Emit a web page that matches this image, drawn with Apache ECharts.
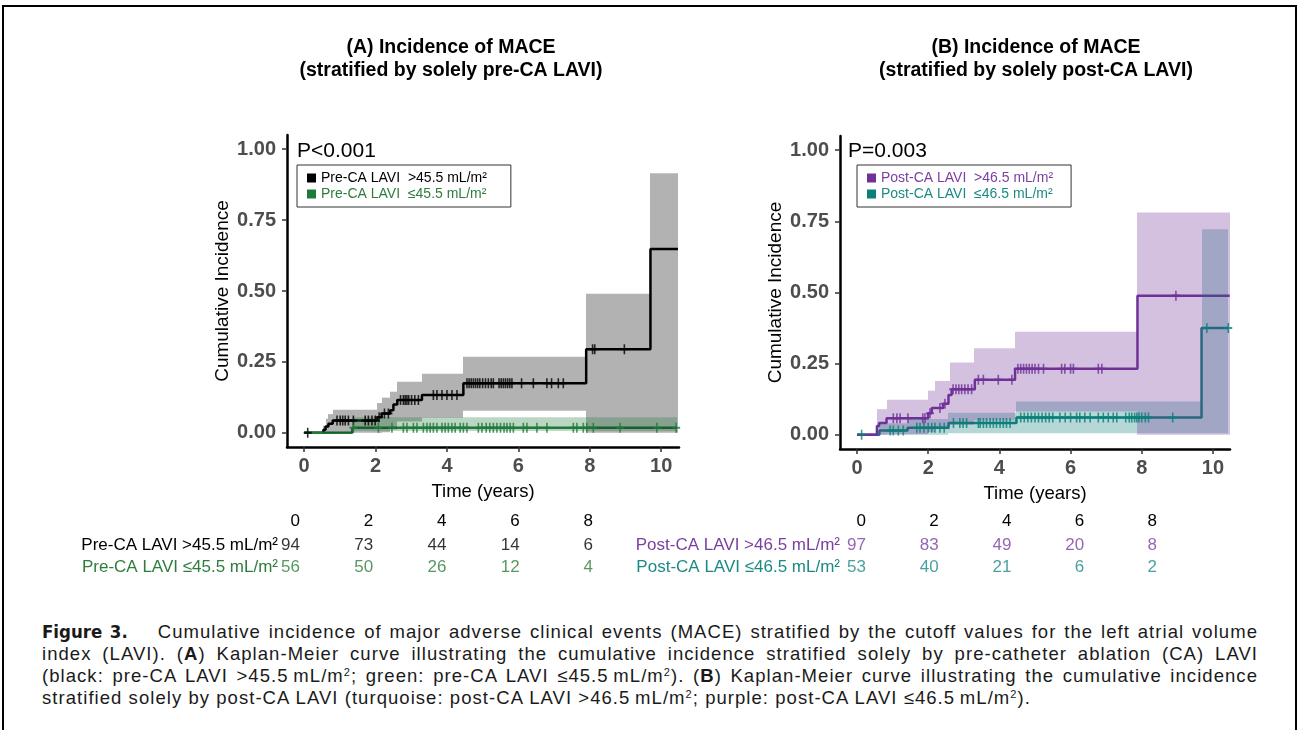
<!DOCTYPE html>
<html>
<head>
<meta charset="utf-8">
<script src="https://cdn.jsdelivr.net/npm/echarts@6/dist/echarts.min.js"></script>
<style>
html,body{margin:0;padding:0;background:#fff;width:1299px;height:730px;overflow:hidden;}
#frame{position:absolute;left:2px;top:5px;width:1295px;height:760px;border:2px solid #000;box-sizing:border-box;}
#chart{position:absolute;left:0;top:0;width:1299px;height:610px;}
#caption{position:absolute;left:42px;top:621px;width:1216px;font-family:"Liberation Sans","Arial",sans-serif;font-size:18.5px;letter-spacing:1.05px;line-height:22px;color:#1a1a1a;}
#caption .ln{text-align:justify;text-align-last:justify;white-space:nowrap;}
#caption .ln.last{text-align-last:left;}
#caption b.fig{font-family:"Liberation Sans Narrow","DejaVu Sans Condensed",sans-serif;font-weight:bold;letter-spacing:0;margin-right:30px;}
#caption sup{font-size:11px;vertical-align:6px;line-height:0;}
</style>
</head>
<body>
<div id="frame"></div>
<div id="chart"></div>
<div id="caption">
<div class="ln"><b class="fig">Figure 3.</b>Cumulative incidence of major adverse clinical events (MACE) stratified by the cutoff values for the left atrial volume</div>
<div class="ln">index (LAVI). (<b>A</b>) Kaplan-Meier curve illustrating the cumulative incidence stratified solely by pre-catheter ablation (CA) LAVI</div>
<div class="ln">(black: pre-CA LAVI &gt;45.5&#8201;mL/m<sup>2</sup>; green: pre-CA LAVI &le;45.5&#8201;mL/m<sup>2</sup>). (<b>B</b>) Kaplan-Meier curve illustrating the cumulative incidence</div>
<div class="ln last">stratified solely by post-CA LAVI (turquoise: post-CA LAVI &gt;46.5&#8201;mL/m<sup>2</sup>; purple: post-CA LAVI &le;46.5&#8201;mL/m<sup>2</sup>).</div>
</div>
<script>
// ---------- axis ticks ----------
const timeTicks = [0, 2, 4, 6, 8, 10];
const incidenceTicks = [0, 0.25, 0.5, 0.75, 1];
const riskTimes = [0, 2, 4, 6, 8];

// ---------- labels ----------
const nameA1 = 'Pre-CA LAVI  >45.5 mL/m²';
const nameA2 = 'Pre-CA LAVI  ≤45.5 mL/m²';
const nameB1 = 'Post-CA LAVI  >46.5 mL/m²';
const nameB2 = 'Post-CA LAVI  ≤46.5 mL/m²';
const rowA = ['Pre-CA LAVI >45.5 mL/m²', 'Pre-CA LAVI ≤45.5 mL/m²'];
const rowB = ['Post-CA LAVI >46.5 mL/m²', 'Post-CA LAVI ≤46.5 mL/m²'];

// ---------- Panel A: pre-CA LAVI > 45.5 (black) ----------
const preHighT = [0, 0.54, 0.6, 0.68, 0.8, 2.05, 2.17, 2.41, 2.5, 2.61, 3.3, 4.46, 7.9, 9.7, 10.47];
const preHighV = [0, 0.011, 0.022, 0.032, 0.043, 0.055, 0.068, 0.08, 0.1, 0.116, 0.133, 0.175, 0.295, 0.648, 0.648];
const preHighBandT = [0.54, 0.6, 0.68, 0.8, 2.05, 2.17, 2.41, 2.61, 3.3, 4.46, 7.9, 9.7, 10.48];
const preHighBandLo = [0, 0, 0, 0, 0, 0.002, 0.012, 0.04, 0.053, 0.078, 0, 0];
const preHighBandHi = [0.025, 0.05, 0.066, 0.081, 0.105, 0.124, 0.145, 0.18, 0.208, 0.268, 0.49, 0.915];
const preHighCensor = [0.1, 0.92, 1.01, 1.08, 1.15, 1.24, 1.38, 1.71, 1.8, 1.9, 1.99, 2.1, 2.25, 2.36,
  2.7, 2.78, 2.83, 2.88, 2.93, 3.01, 3.1, 3.2, 3.62, 3.72, 3.86, 4.0, 4.14, 4.28,
  4.56, 4.62, 4.68, 4.74, 4.8, 4.86, 4.92, 5.0, 5.08, 5.16, 5.24, 5.3, 5.46, 5.52, 5.58, 5.64, 5.7, 5.76, 5.82,
  6.09, 6.42, 6.8, 6.93, 7.12, 7.26, 8.08, 8.14, 8.97];

// ---------- Panel A: pre-CA LAVI <= 45.5 (green) ----------
const preLowT = [0, 1.35, 10.44];
const preLowV = [0, 0.018, 0.018];
const preLowBandT = [1.35, 10.44];
const preLowBandLo = [0.006];
const preLowBandHi = [0.055];
const preLowCensor = [1.38, 2.08, 2.46, 2.78, 2.88, 3.06, 3.16, 3.34, 3.44, 3.53, 3.62, 3.72, 3.86, 3.95, 4.04, 4.14, 4.23,
  4.37, 4.46, 4.56, 4.88, 4.98, 5.1, 5.2, 5.3, 5.4, 5.5, 5.6, 5.68, 5.77, 5.86, 6.14, 6.24, 6.52, 6.8,
  7.54, 7.64, 7.82, 7.92, 8.1, 8.85, 9.88, 10.42];

// ---------- Panel B: post-CA LAVI > 46.5 (purple) ----------
const postHighT = [0, 0.56, 0.62, 0.83, 2.0, 2.1, 2.42, 2.57, 2.66, 3.31, 4.44, 7.88, 10.47];
const postHighV = [0, 0.031, 0.041, 0.058, 0.076, 0.094, 0.109, 0.14, 0.16, 0.193, 0.232, 0.489, 0.489];
const postHighBandT = [0.57, 0.83, 2.0, 2.19, 2.61, 3.3, 4.44, 7.88, 10.48];
const postHighBandLo = [0, 0.002, 0.01, 0.02, 0.035, 0.05, 0.082, 0];
const postHighBandHi = [0.09, 0.123, 0.155, 0.189, 0.254, 0.304, 0.362, 0.781];
const postHighCensor = [1.02, 1.12, 1.21, 1.43, 1.85, 1.91, 2.05, 2.33, 2.47,
  2.7, 2.78, 2.86, 2.94, 3.03, 3.12, 3.22, 3.41, 3.55, 3.97, 4.35,
  4.52, 4.6, 4.68, 4.76, 4.84, 4.92, 5.0, 5.1, 5.24, 5.75, 5.84, 6.0, 6.08, 6.78, 6.88, 8.96];

// ---------- Panel B: post-CA LAVI <= 46.5 (teal) ----------
const postLowT = [0, 0.63, 1.42, 2.57, 4.48, 9.68, 10.43];
const postLowV = [0, 0.015, 0.025, 0.041, 0.061, 0.375, 0.375];
const postLowBandT = [0.63, 1.42, 2.57, 4.48, 9.68, 10.42];
const postLowBandLo = [0, 0, 0.005, 0.005, 0.005];
const postLowBandHi = [0.04, 0.055, 0.077, 0.117, 0.722];
const postLowCensor = [0.13, 0.93, 1.02, 1.16, 1.3, 1.68, 1.77, 1.88, 2.0, 2.1, 2.19, 2.33, 2.45,
  2.71, 2.89, 2.98, 3.08, 3.41, 3.46, 3.55, 3.64, 3.74, 3.83, 3.92, 4.02, 4.11, 4.2, 4.3,
  4.6, 4.7, 4.8, 4.9, 5.0, 5.1, 5.2, 5.3, 5.4, 5.5, 5.7, 5.85, 6.0, 6.17, 6.26, 6.4, 6.55, 6.78, 6.92,
  7.06, 7.2, 7.3, 7.55, 7.65, 7.72, 7.8, 7.86, 7.92, 8.0, 8.1, 8.19, 8.87, 9.83, 10.43];

// ---------- numbers at risk ----------
const riskPreHigh = [94, 73, 44, 14, 6];
const riskPreLow = [56, 50, 26, 12, 4];
const riskPostHigh = [97, 83, 49, 20, 8];
const riskPostLow = [53, 40, 21, 6, 2];

// ---------- colours ----------
const C = {
  black: '#000000', green: '#1f7a3a', purple: '#6f3198', teal: '#0b7f78',
  greenText: '#2e7d3c', purpleText: '#7b3fa2', tealText: '#1c8a84',
  tick: '#4d4d4d'
};
const FONT = 'Liberation Sans, Arial, sans-serif';

function stepAt(T, V, t) {
  let v = V[0];
  for (let i = 0; i < T.length; i++) { if (T[i] <= t) v = V[i]; }
  return v;
}
function pairs(T, V) { return T.map((t, i) => [t, V[i]]); }
function bandSegs(T, lo, hi) { return lo.map((l, i) => [T[i], T[i + 1], l, hi[i]]); }

function stepSeries(name, T, V, color, idx) {
  return {
    type: 'line', name: name, xAxisIndex: idx, yAxisIndex: idx, data: pairs(T, V), step: 'end',
    symbol: 'none', lineStyle: { color: color, width: 2.5 }, itemStyle: { color: color }, z: 2,
    animation: false, silent: true
  };
}
function bandSeries(name, T, lo, hi, fill, idx) {
  return {
    type: 'custom', name: name, xAxisIndex: idx, yAxisIndex: idx, data: bandSegs(T, lo, hi), z: 3,
    encode: { x: [0, 1], y: [2, 3] }, animation: false, silent: true, clip: true,
    renderItem: function (params, api) {
      const a = api.coord([api.value(0), api.value(3)]);
      const b = api.coord([api.value(1), api.value(2)]);
      const x0 = Math.round(a[0]), x1 = Math.round(b[0]);
      return { type: 'rect', shape: { x: x0, y: a[1], width: x1 - x0, height: b[1] - a[1] }, style: { fill: fill } };
    }
  };
}
function censorSeries(name, times, T, V, color, idx) {
  return {
    type: 'scatter', name: name, xAxisIndex: idx, yAxisIndex: idx,
    data: times.map(t => [t, stepAt(T, V, t)]),
    symbol: 'path://M5,0L5,10M0,5L10,5', symbolSize: [8, 10],
    itemStyle: { color: 'none', borderColor: color, borderWidth: 1.8 }, z: 4, animation: false, silent: true
  };
}
function riskSeries(name, counts, row, color, idx) {
  return {
    type: 'scatter', name: name, xAxisIndex: idx, yAxisIndex: idx,
    data: riskTimes.map((t, i) => [t, row, counts[i]]), symbolSize: 0.1,
    itemStyle: { color: 'transparent' }, animation: false, silent: true,
    label: { show: true, position: 'inside', align: 'right', verticalAlign: 'middle', color: color,
      fontSize: 17, fontFamily: FONT, formatter: p => String(p.value[2]) }
  };
}

function kmXAxis(grid, min, max) {
  return {
    gridIndex: grid, type: 'value', min: min, max: max,
    axisLine: { onZero: false, lineStyle: { color: '#000', width: 2.5 } },
    axisTick: { customValues: timeTicks, length: 5, lineStyle: { color: '#333', width: 1.5 } },
    axisLabel: { customValues: timeTicks, color: C.tick, fontSize: 20, fontWeight: 'bold', fontFamily: FONT, margin: 9 },
    splitLine: { show: false },
    name: 'Time (years)', nameLocation: 'middle', nameGap: 35,
    nameTextStyle: { fontSize: 18.5, color: '#000', fontFamily: FONT }
  };
}
function kmYAxis(grid) {
  return {
    gridIndex: grid, type: 'value', min: -0.05, max: 1.05,
    axisLine: { show: true, onZero: false, lineStyle: { color: '#000', width: 2.5 } },
    axisTick: { show: true, customValues: incidenceTicks, length: 5, lineStyle: { color: '#333', width: 1.5 } },
    axisLabel: { customValues: incidenceTicks, color: C.tick, fontSize: 20, fontWeight: 'bold', fontFamily: FONT,
      margin: 11, formatter: v => Number(v).toFixed(2) },
    splitLine: { show: false },
    name: 'Cumulative Incidence', nameLocation: 'middle', nameGap: 55, nameRotate: 90,
    nameTextStyle: { fontSize: 19, color: '#000', fontFamily: FONT }
  };
}
function riskXAxis(grid) {
  return {
    gridIndex: grid, type: 'value', min: 0, max: 8, position: 'top',
    axisLine: { show: false }, axisTick: { show: false }, splitLine: { show: false },
    axisLabel: { customValues: riskTimes, align: 'right', color: '#000', fontSize: 17, fontFamily: FONT, margin: 4 }
  };
}
function riskYAxis(grid, rows, colors, margin) {
  return {
    gridIndex: grid, type: 'category', data: rows, inverse: true,
    axisLine: { show: false }, axisTick: { show: false }, splitLine: { show: false },
    axisLabel: { interval: 0, margin: margin, fontSize: 17, fontFamily: FONT, color: (v, i) => colors[i] }
  };
}

const option = {
  backgroundColor: 'transparent',
  animation: false,
  textStyle: { fontFamily: FONT },
  grid: [
    { left: 287, top: 135, width: 392, height: 312 },
    { left: 840, top: 136, width: 390, height: 313 },
    { left: 300, top: 534, width: 293, height: 44 },
    { left: 866, top: 534, width: 291, height: 44 }
  ],
  xAxis: [kmXAxis(0, -0.48, 10.5), kmXAxis(1, -0.478, 10.48), riskXAxis(2), riskXAxis(3)],
  yAxis: [kmYAxis(0), kmYAxis(1), riskYAxis(2, rowA, ['#000', C.greenText], 22), riskYAxis(3, rowB, [C.purpleText, C.tealText], 26)],
  legend: [
    {
      data: [{ name: nameA1, textStyle: { color: '#000' } }, { name: nameA2, textStyle: { color: C.greenText } }],
      left: 297, top: 165, orient: 'vertical', icon: 'rect', itemWidth: 9, itemHeight: 9, itemGap: 2,
      borderColor: '#333', borderWidth: 1, padding: [6, 24, 6, 10], selectedMode: false,
      textStyle: { fontSize: 14, fontFamily: FONT }
    },
    {
      data: [{ name: nameB1, textStyle: { color: C.purpleText } }, { name: nameB2, textStyle: { color: C.tealText } }],
      left: 857, top: 165, orient: 'vertical', icon: 'rect', itemWidth: 9, itemHeight: 9, itemGap: 2,
      borderColor: '#333', borderWidth: 1, padding: [6, 18, 6, 10], selectedMode: false,
      textStyle: { fontSize: 14, fontFamily: FONT }
    }
  ],
  graphic: [
    { type: 'text', x: 451, y: 48, style: { text: '(A) Incidence of MACE', align: 'center', verticalAlign: 'middle', fontSize: 19.5, fontWeight: 'bold', fontFamily: FONT, fill: '#000' } },
    { type: 'text', x: 451, y: 71, style: { text: '(stratified by solely pre-CA LAVI)', align: 'center', verticalAlign: 'middle', fontSize: 19.5, fontWeight: 'bold', fontFamily: FONT, fill: '#000' } },
    { type: 'text', x: 1036, y: 48, style: { text: '(B) Incidence of MACE', align: 'center', verticalAlign: 'middle', fontSize: 19.5, fontWeight: 'bold', fontFamily: FONT, fill: '#000' } },
    { type: 'text', x: 1036, y: 71, style: { text: '(stratified by solely post-CA LAVI)', align: 'center', verticalAlign: 'middle', fontSize: 19.5, fontWeight: 'bold', fontFamily: FONT, fill: '#000' } },
    { type: 'text', x: 297, y: 151, style: { text: 'P<0.001', align: 'left', verticalAlign: 'middle', fontSize: 21, fontFamily: FONT, fill: '#000' } },
    { type: 'text', x: 848, y: 151, style: { text: 'P=0.003', align: 'left', verticalAlign: 'middle', fontSize: 21, fontFamily: FONT, fill: '#000' } }
  ],
  series: [
    // Panel A
    stepSeries(nameA1, preHighT, preHighV, C.black, 0),
    stepSeries(nameA2, preLowT, preLowV, C.green, 0),
    bandSeries('A1 band', preHighBandT, preHighBandLo, preHighBandHi, 'rgba(0,0,0,0.3)', 0),
    bandSeries('A2 band', preLowBandT, preLowBandLo, preLowBandHi, 'rgba(31,122,58,0.3)', 0),
    censorSeries('A1 censor', preHighCensor, preHighT, preHighV, C.black, 0),
    censorSeries('A2 censor', preLowCensor, preLowT, preLowV, C.green, 0),
    // Panel B
    stepSeries(nameB2, postLowT, postLowV, C.teal, 1),
    stepSeries(nameB1, postHighT, postHighV, C.purple, 1),
    bandSeries('B2 band', postLowBandT, postLowBandLo, postLowBandHi, 'rgba(11,127,120,0.3)', 1),
    bandSeries('B1 band', postHighBandT, postHighBandLo, postHighBandHi, 'rgba(111,49,152,0.3)', 1),
    censorSeries('B2 censor', postLowCensor, postLowT, postLowV, C.teal, 1),
    censorSeries('B1 censor', postHighCensor, postHighT, postHighV, C.purple, 1),
    // Risk tables
    riskSeries('risk A1', riskPreHigh, 0, '#000', 2),
    riskSeries('risk A2', riskPreLow, 1, C.greenText, 2),
    riskSeries('risk B1', riskPostHigh, 0, C.purpleText, 3),
    riskSeries('risk B2', riskPostLow, 1, C.tealText, 3)
  ]
};

const chart = echarts.init(document.getElementById('chart'));
chart.setOption(option);
</script>
</body>
</html>
